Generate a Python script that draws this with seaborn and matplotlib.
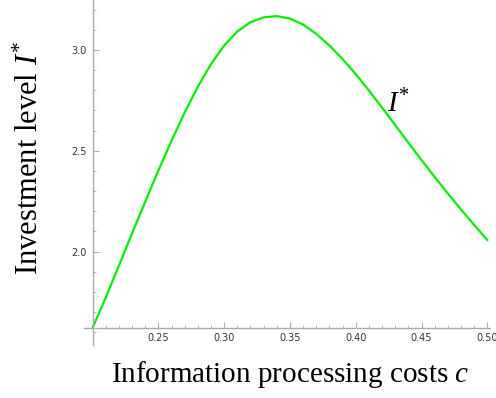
import matplotlib
matplotlib.use("Agg")
import matplotlib.pyplot as plt
import seaborn as sns
import pandas as pd
from matplotlib.ticker import MultipleLocator, FixedLocator

# Data
cost = [0.20, 0.21, 0.22, 0.23, 0.24, 0.25, 0.26, 0.27, 0.28, 0.29, 0.30,
        0.31, 0.32, 0.33, 0.34, 0.35, 0.36, 0.37, 0.38, 0.39, 0.40,
        0.41, 0.42, 0.43, 0.44, 0.45, 0.46, 0.47, 0.48, 0.49, 0.50]
investment = [1.622, 1.772, 1.930, 2.090, 2.248, 2.402, 2.550, 2.690, 2.818, 2.930, 3.022,
              3.092, 3.138, 3.162, 3.168, 3.156, 3.126, 3.080, 3.022, 2.955, 2.880,
              2.799, 2.714, 2.627, 2.540, 2.454, 2.370, 2.288, 2.209, 2.132, 2.057]
x_ticks = [0.25, 0.30, 0.35, 0.40, 0.45, 0.50]
x_tick_labels = ["0.25", "0.30", "0.35", "0.40", "0.45", "0.50"]
y_ticks = [2.0, 2.5, 3.0]
y_tick_labels = ["2.0", "2.5", "3.0"]

df = pd.DataFrame({"cost": cost, "investment": investment})

sns.set_style("white")
plt.rcParams["mathtext.fontset"] = "custom"
plt.rcParams["mathtext.rm"] = "Liberation Serif"
plt.rcParams["mathtext.it"] = "Liberation Serif:italic"

fig = plt.figure(figsize=(4.96, 3.98), dpi=100)
ax = fig.add_axes([84 / 496, 1 - 345 / 398, (490 - 84) / 496, 345 / 398])

sns.lineplot(data=df, x="cost", y="investment", ax=ax, color="#00f000",
             linewidth=1.6, clip_on=False)

ax.set_xlim(0.1935, 0.502)
ax.set_ylim(1.537, 3.248)

for s in ["top", "right"]:
    ax.spines[s].set_visible(False)
ax.spines["left"].set_position(("data", 0.2))
ax.spines["bottom"].set_position(("data", 1.622))
for s in ["left", "bottom"]:
    ax.spines[s].set_color("#aaaaaa")
    ax.spines[s].set_linewidth(1.0)

ax.xaxis.set_major_locator(FixedLocator(x_ticks))
ax.set_xticklabels(x_tick_labels)
ax.yaxis.set_major_locator(FixedLocator(y_ticks))
ax.set_yticklabels(y_tick_labels)
ax.xaxis.set_minor_locator(MultipleLocator(0.01))
ax.yaxis.set_minor_locator(MultipleLocator(0.1))

ax.tick_params(axis="both", which="major", direction="in", length=4, width=0.8,
               color="#aaaaaa", labelsize=7, labelcolor="#333333", pad=4)
ax.tick_params(axis="both", which="minor", direction="in", length=2.5, width=0.6,
               color="#aaaaaa")
ax.tick_params(axis="x", which="both", bottom=True)
ax.tick_params(axis="y", which="both", left=True)
for lbl in ax.get_xticklabels() + ax.get_yticklabels():
    lbl.set_fontfamily("DejaVu Sans")

ax.set_xlabel("")
ax.set_ylabel("")

fig.text(290 / 496, 1 - 374 / 398, r"Information processing costs $c$",
         ha="center", va="center", fontsize=21, family="Liberation Serif",
         color="black")
fig.text(30 / 496, 1 - 158 / 398, r"Investment level $I^{*}$", rotation=90,
         ha="center", va="center", fontsize=22, family="Liberation Serif",
         color="black")
ax.text(0.4236, 2.66, r"$I^{*}$", fontsize=21, ha="left", va="bottom",
        color="black")

fig.savefig("out.png", dpi=100)
